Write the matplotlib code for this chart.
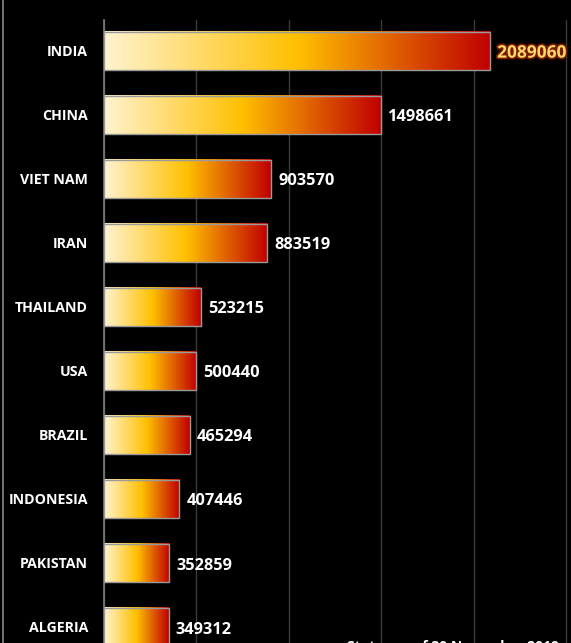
import matplotlib
matplotlib.use("Agg")
import matplotlib.pyplot as plt
import numpy as np
from matplotlib.colors import LinearSegmentedColormap
from matplotlib.lines import Line2D
import matplotlib.patheffects as pe

countries = ["INDIA", "CHINA", "VIET NAM", "IRAN", "THAILAND", "USA", "BRAZIL",
             "INDONESIA", "PAKISTAN", "ALGERIA"]
values = [2089060, 1498661, 903570, 883519, 523215, 500440, 465294, 407446, 352859, 349312]
grid_ticks = [0, 500000, 1000000, 1500000, 2000000, 2500000]
footnote = "Status as of 30 November 2019"

W, H = 571, 643
fig = plt.figure(figsize=(W / 100, H / 100), dpi=100, facecolor="black")
ax = fig.add_axes([104 / W, 0, 1 - 104 / W, (H - 20) / H], facecolor="black")

cmap = LinearSegmentedColormap.from_list("g", [(0, "#FFF3D0"), (0.5, "#FFC000"), (1, "#C00000")])
grad = np.linspace(0, 1, 256).reshape(1, -1)
h = 0.6
for i, v in enumerate(values):
    ax.imshow(grad, extent=[0, v, i + h / 2, i - h / 2], aspect="auto", cmap=cmap,
              interpolation="bilinear", zorder=2)
ax.barh(range(len(values)), values, height=h, facecolor="none", edgecolor="#9a9a9a",
        linewidth=1.0, zorder=3)

for i, v in enumerate(values):
    if i == 0:
        ax.text(v + 38000, i + 0.03, f"{v}", color="#FFD966", fontsize=12.5, fontweight="bold",
                family="Open Sans", va="center", ha="left", clip_on=False, zorder=4,
                path_effects=[pe.withStroke(linewidth=2.5, foreground="#7a1a00")])
    else:
        ax.text(v + 38000, i + 0.04, f"{v}", color="white", fontsize=11.8, fontweight="bold",
                family="Open Sans", va="center", ha="left", clip_on=False, zorder=4)

ax.set_xlim(0, 2527000)
ax.set_ylim(9.25, -0.48)
ax.set_xticks(grid_ticks)
ax.set_xticklabels([])
ax.tick_params(axis="x", length=0)
ax.grid(axis="x", color="#3a3a3a", linewidth=1.0, zorder=0)
ax.set_axisbelow(True)
ax.set_yticks(range(len(countries)))
ax.set_yticklabels(countries, color="white", fontsize=10.2, fontweight="bold", family="Open Sans")
ax.tick_params(axis="y", length=0, pad=11.5)
for s in ["top", "right", "bottom"]:
    ax.spines[s].set_visible(False)
ax.spines["left"].set_color("#7f7f7f")
ax.spines["left"].set_linewidth(1.2)

fig.add_artist(Line2D([2.5 / W, 2.5 / W], [0, 1], color="#8a8a8a", linewidth=1.2))
fig.text(347 / W, (H - 640) / H, footnote, color="white", fontsize=10, fontweight="bold",
         family="Open Sans", va="top", ha="left")

fig.savefig("out.png", dpi=100, facecolor="black")
